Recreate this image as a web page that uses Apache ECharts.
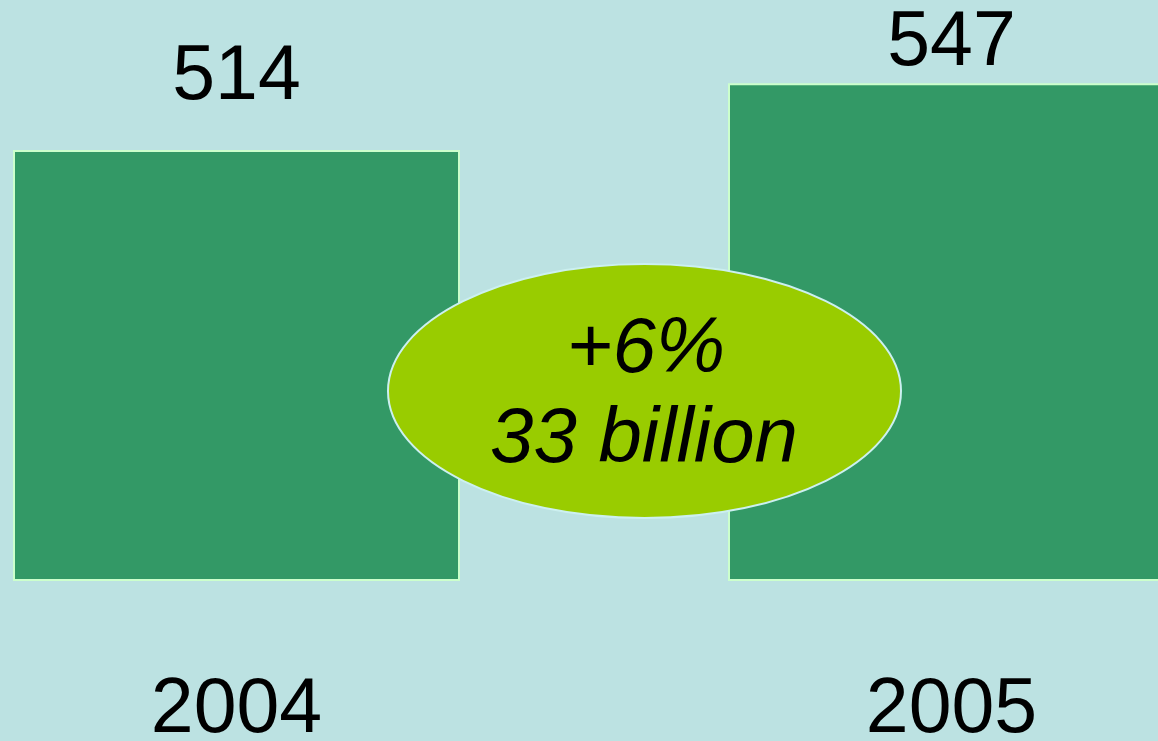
<!DOCTYPE html>
<html>
<head>
<meta charset="utf-8">
<script src="https://cdn.jsdelivr.net/npm/echarts@6/dist/echarts.min.js"></script>
<style>html,body{margin:0;padding:0;background:#bce2e2;}#c{width:1158px;height:741px;}</style>
</head>
<body>
<div id="c"></div>
<script>
const categories = ['2004', '2005'];
const values = [514, 547];
const changeLines = ['+6%', '33 billion'];
const labelGaps = [34, 1];

const chart = echarts.init(document.getElementById('c'), null, {renderer: 'canvas'});
chart.setOption({
  backgroundColor: '#bce2e2',
  animation: false,
  grid: {left: -121, top: 0, width: 1430, height: 580, containLabel: false, outerBoundsMode: 'none'},
  xAxis: {
    type: 'category',
    data: categories,
    axisLine: {show: false},
    axisTick: {show: false},
    axisLabel: {
      margin: 92,
      fontFamily: 'Liberation Sans',
      fontSize: 77,
      color: '#000'
    }
  },
  yAxis: {
    type: 'value',
    min: 302,
    max: 588,
    show: false,
    splitLine: {show: false}
  },
  series: [{
    type: 'bar',
    data: values.map((v, i) => ({value: v, label: {distance: labelGaps[i]}})),
    barWidth: 447,
    itemStyle: {color: '#339966', borderColor: '#ccffcc', borderWidth: 2},
    label: {
      show: true,
      position: 'top',
      fontFamily: 'Liberation Sans',
      fontSize: 77,
      color: '#000'
    }
  }],
  graphic: [{
    type: 'ellipse',
    shape: {cx: 644.5, cy: 391, rx: 256.5, ry: 127},
    style: {fill: '#99cc00', stroke: '#ccf0f0', lineWidth: 2},
    z: 100
  }, {
    type: 'text',
    x: 646, y: 350,
    style: {text: changeLines[0], fontFamily: 'Liberation Sans', fontStyle: 'italic', fontSize: 78, fill: '#000', align: 'center', verticalAlign: 'middle'},
    z: 101
  }, {
    type: 'text',
    x: 644, y: 440,
    style: {text: changeLines[1], fontFamily: 'Liberation Sans', fontStyle: 'italic', fontSize: 78, fill: '#000', align: 'center', verticalAlign: 'middle'},
    z: 101
  }]
});
</script>
</body>
</html>
